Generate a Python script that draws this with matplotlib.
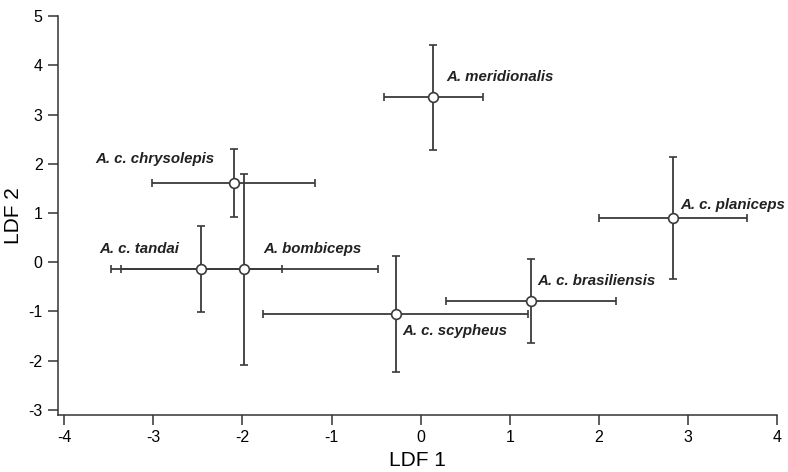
import matplotlib.pyplot as plt

plt.rcParams["font.family"] = ["Liberation Sans", "DejaVu Sans"]
plt.rcParams["axes.unicode_minus"] = False

# group means and error half-widths on the two discriminant functions
groups = ["A. meridionalis", "A. c. planiceps", "A. c. chrysolepis", "A. bombiceps",
          "A. c. tandai", "A. c. scypheus", "A. c. brasiliensis"]
ldf1 = [0.14, 2.83, -2.10, -1.98, -2.46, -0.28, 1.24]
ldf2 = [3.35, 0.89, 1.61, -0.14, -0.14, -1.05, -0.79]
err1 = [0.555, 0.83, 0.91, 1.50, 0.90, 1.49, 0.95]
err2 = [1.07, 1.24, 0.70, 1.94, 0.87, 1.17, 0.86]

# where each name is written (left edge, vertical centre), in data units
label_x = [0.29, 2.91, -3.65, -1.77, -3.61, -0.21, 1.31]
label_y = [3.76, 1.16, 2.09, 0.26, 0.26, -1.40, -0.39]

fig = plt.figure(figsize=(7.88, 4.72), dpi=100)
ax = fig.add_axes([0.0736, 0.121, 0.9124, 0.845])

ax.errorbar(ldf1, ldf2, xerr=err1, yerr=err2, fmt="o", color="#3a3a3a",
            ecolor="#3a3a3a", elinewidth=1.3, capsize=3.2, capthick=1.3,
            markersize=7, markerfacecolor="white", markeredgecolor="#3a3a3a",
            markeredgewidth=1.2, zorder=3)

for name, tx, ty in zip(groups, label_x, label_y):
    ax.text(tx, ty, name, fontsize=10.8, fontstyle="italic", fontweight="bold",
            ha="left", va="center", color="#222222")

ax.set_xlim(-4.07, 4.0)
ax.set_ylim(-3.1, 5.0)
ax.set_xticks(range(-4, 5))
ax.set_yticks(range(-3, 6))
ax.spines["top"].set_visible(False)
ax.spines["right"].set_visible(False)
for s in ["left", "bottom"]:
    ax.spines[s].set_linewidth(1.1)
    ax.spines[s].set_color("#333333")
ax.tick_params(direction="out", length=7, width=1.1, color="#333333",
               labelsize=11.5, pad=4)

ax.set_xlabel("LDF 1", fontsize=15, labelpad=4)
ax.set_ylabel("LDF 2", fontsize=15, labelpad=4)

fig.savefig("out.png", dpi=100)
plt.close(fig)
